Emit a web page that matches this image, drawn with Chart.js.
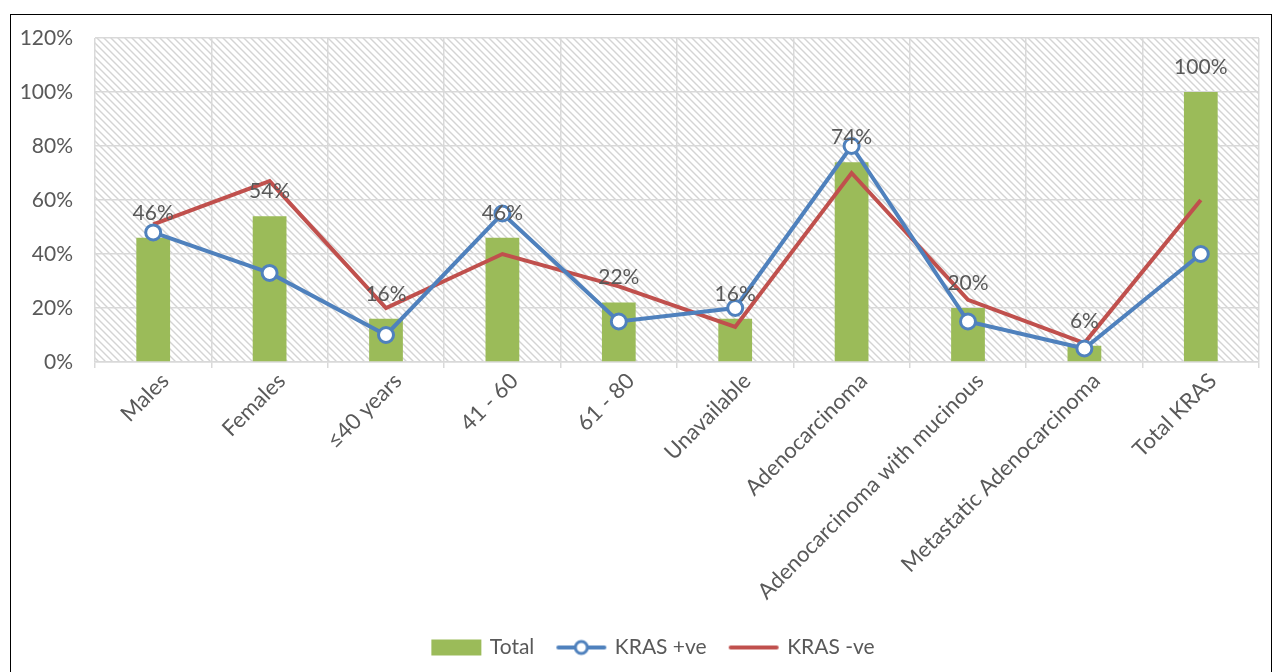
<!DOCTYPE html>
<html>
<head>
<meta charset="utf-8">
<script src="https://cdn.jsdelivr.net/npm/chart.js@4.4.1/dist/chart.umd.min.js"></script>
<style>
  html, body { margin: 0; padding: 0; background: #fff; }
  #frame { position: absolute; left: 10px; top: 14px; width: 1260px; height: 670px; border: 1px solid #000; }
  #wrap { position: relative; width: 1259px; height: 657px; }
</style>
</head>
<body>
<div id="frame"><div id="wrap"><canvas id="kras-chart"></canvas></div></div>
<script>
const categories = ['Males', 'Females', '\u226440 years', '41 - 60', '61 - 80', 'Unavailable',
  'Adenocarcinoma', 'Adenocarcinoma with mucinous', 'Metastatic Adenocarcinoma', 'Total KRAS'];
const totalPct   = [46, 54, 16, 46, 22, 16, 74, 20, 6, 100];
const krasPosPct = [48, 33, 10, 55, 15, 20, 80, 15, 5, 40];
const krasNegPct = [51, 67, 20, 40, 28, 13, 70, 23, 7, 60];
const yTicks = [0, 20, 40, 60, 80, 100, 120];

const GREEN = '#9bbb59', BLUE = '#4f81bd', RED = '#c0504d', TEXT = '#595959', GRID = '#d9d9d9';

Chart.defaults.font.family = 'Lato, "Open Sans", sans-serif';
Chart.defaults.color = TEXT;

// diagonal hatch used behind the plot
function makeHatch() {
  const c = document.createElement('canvas');
  c.width = c.height = 7;
  const g = c.getContext('2d');
  g.fillStyle = '#fff';
  g.fillRect(0, 0, 7, 7);
  g.strokeStyle = '#d4d4d4';
  g.lineWidth = 1.4;
  g.beginPath();
  g.moveTo(-2, -2); g.lineTo(9, 9);
  g.moveTo(-2, 5); g.lineTo(2, 9);
  g.moveTo(5, -2); g.lineTo(9, 2);
  g.stroke();
  return c;
}

// legend swatches
function swatch(kind) {
  const c = document.createElement('canvas');
  c.width = 52; c.height = 18;
  const g = c.getContext('2d');
  if (kind === 'bar') {
    g.fillStyle = GREEN;
    g.fillRect(1, 1, 50, 16);
  } else {
    g.strokeStyle = kind === 'pos' ? BLUE : RED;
    g.lineWidth = 4;
    g.lineCap = 'round';
    g.beginPath(); g.moveTo(3, 9); g.lineTo(49, 9); g.stroke();
    if (kind === 'pos') {
      g.fillStyle = '#fff';
      g.lineWidth = 3;
      g.beginPath(); g.arc(26, 9, 6, 0, Math.PI * 2); g.fill(); g.stroke();
    }
  }
  return c;
}
const swatches = [swatch('bar'), swatch('pos'), swatch('neg')];

const hatchBg = {
  id: 'hatchBg',
  beforeDraw(chart) {
    const {ctx, chartArea: a} = chart;
    ctx.save();
    ctx.fillStyle = ctx.createPattern(makeHatch(), 'repeat');
    ctx.fillRect(a.left, a.top, a.right - a.left, a.bottom - a.top);
    ctx.restore();
  }
};

const barLabels = {
  id: 'barLabels',
  afterDatasetsDraw(chart) {
    const ctx = chart.ctx;
    const meta = chart.getDatasetMeta(0);
    ctx.save();
    ctx.font = '21px Lato';
    ctx.fillStyle = TEXT;
    ctx.textAlign = 'center';
    ctx.textBaseline = 'middle';
    meta.data.forEach((bar, i) => {
      ctx.fillText(totalPct[i] + '%', bar.x, bar.y - 25);
    });
    ctx.restore();
  }
};

// nudge the legend row a little to the right
const legendShift = {
  id: 'legendShift',
  afterLayout(chart) {
    chart.legend.left += 19;
    chart.legend.right += 19;
  }
};

new Chart(document.getElementById('kras-chart'), {
  data: {
    labels: categories,
    datasets: [
      {
        type: 'bar',
        label: 'Total',
        data: totalPct,
        backgroundColor: GREEN,
        barPercentage: 0.29,
        categoryPercentage: 1,
        order: 3
      },
      {
        type: 'line',
        label: 'KRAS +ve',
        data: krasPosPct,
        borderColor: BLUE,
        borderWidth: 4,
        pointRadius: 7.5,
        pointBorderWidth: 3,
        pointBackgroundColor: '#fff',
        pointBorderColor: BLUE,
        tension: 0,
        order: 1
      },
      {
        type: 'line',
        label: 'KRAS -ve',
        data: krasNegPct,
        borderColor: RED,
        borderWidth: 4,
        pointRadius: 0,
        tension: 0,
        order: 2
      }
    ]
  },
  options: {
    responsive: true,
    maintainAspectRatio: false,
    animation: false,
    layout: { padding: { top: 23, right: 11, left: 0, bottom: 4 } },
    plugins: {
      tooltip: { enabled: false },
      legend: {
        position: 'bottom',
        labels: {
          usePointStyle: true,
          pointStyleWidth: 46,
          padding: 24,
          font: { size: 21 },
          color: TEXT,
          generateLabels: (chart) => chart.data.datasets.map((ds, i) => ({
            text: ds.label,
            pointStyle: swatches[i],
            datasetIndex: i,
            fontColor: TEXT,
            lineWidth: 0,
            hidden: false
          }))
        }
      }
    },
    scales: {
      x: {
        offset: true,
        grid: { color: GRID, lineWidth: 1.5, offset: true, tickLength: 6, drawTicks: true },
        border: { color: GRID, width: 1.5 },
        ticks: { font: { size: 22 }, color: TEXT, maxRotation: 45, minRotation: 45, padding: 0, labelOffset: 12, autoSkip: false },
        afterFit: (scale) => { scale.height = 251; }
      },
      y: {
        min: 0,
        max: 120,
        afterBuildTicks: (scale) => { scale.ticks = yTicks.map(v => ({ value: v })); },
        grid: { color: GRID, lineWidth: 1.5, drawTicks: true, tickLength: 22, tickColor: 'rgba(0,0,0,0)' },
        border: { display: false },
        ticks: { font: { size: 21 }, color: TEXT, padding: 0, callback: (v) => v + '%' },
        afterFit: (scale) => { scale.width = 84; }
      }
    }
  },
  plugins: [hatchBg, barLabels, legendShift]
});
</script>
</body>
</html>
